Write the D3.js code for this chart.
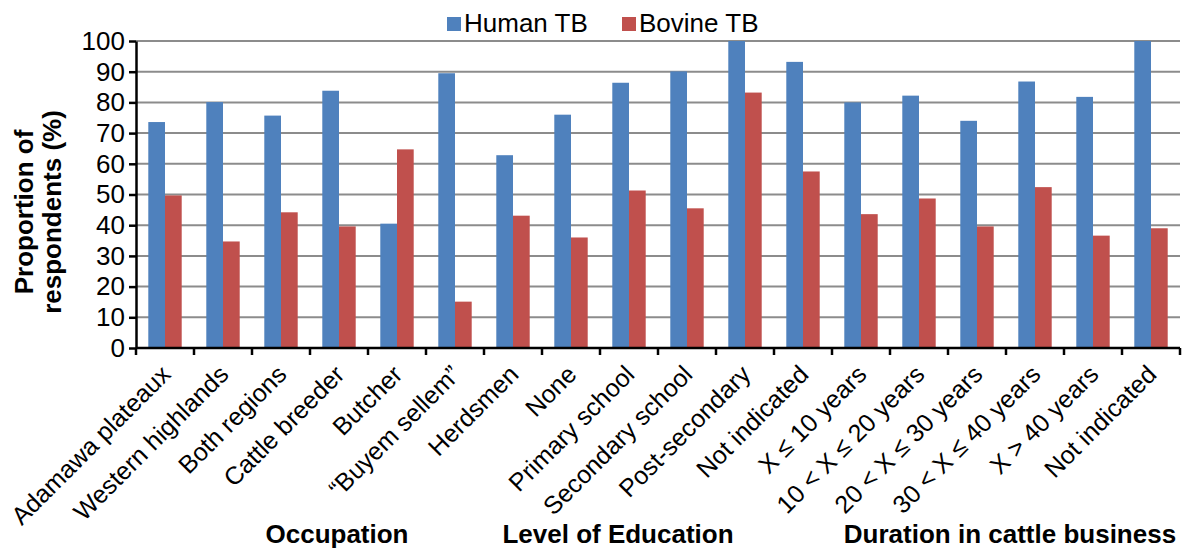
<!DOCTYPE html>
<html>
<head>
<meta charset="utf-8">
<script src="https://cdn.jsdelivr.net/npm/d3@7"></script>
<style>
	body { margin: 0; background: #fff; }
	svg { display: block; font-family: 'Liberation Sans', Arial, sans-serif; }
	.grid line { stroke: #8c8c8c; stroke-width: 2; }
	.axis path, .axis line { stroke: #000; stroke-width: 2.5; }
	.axis text { font-size: 26px; fill: #000; }
	.axis .x-label { font-size: 25px; }
	.title { font-size: 26px; font-weight: bold; }
	.legend-text { font-size: 26px; }
</style>
</head>
<body>
<svg id="chart-svg" width="1182" height="551"></svg>
<script>
const CATEGORIES = [
	'Adamawa plateaux', 'Western highlands', 'Both regions', 'Cattle breeder', 'Butcher',
	'\u201cBuyem sellem\u201d', 'Herdsmen', 'None', 'Primary school', 'Secondary school',
	'Post-secondary', 'Not indicated', 'X \u2264 10 years', '10 < X \u2264 20 years',
	'20 < X \u2264 30 years', '30 < X \u2264 40 years', 'X > 40 years', 'Not indicated'
];
const HUMAN_TB = [73.6, 80.1, 75.7, 83.8, 40.5, 89.5, 62.8, 76.0, 86.4, 90.1, 100, 93.2, 80.0, 82.2, 74.0, 86.8, 81.8, 100];
const BOVINE_TB = [49.7, 34.7, 44.2, 39.6, 64.7, 15.1, 43.1, 36.0, 51.3, 45.5, 83.2, 57.5, 43.6, 48.7, 39.6, 52.4, 36.6, 39.0];
const SERIES = ['Human TB', 'Bovine TB'];
const COLORS = ['#4f81bd', '#c0504d'];
const Y_TICKS = [0, 10, 20, 30, 40, 50, 60, 70, 80, 90, 100];
const GROUP_TITLES = ['Occupation', 'Level of Education', 'Duration in cattle business'];

const PADDING = { top: 41, bottom: 203, left: 136, right: 2 };

const svg = d3.select('#chart-svg');
const width = 1182;
const height = 551;

const rows = CATEGORIES.map((c, i) => ({ key: i, name: c, values: [HUMAN_TB[i], BOVINE_TB[i]] }));

const xScale = d3.scaleBand()
	.domain(rows.map((d) => d.key))
	.range([PADDING.left, width - PADDING.right])
	.paddingInner(0.424)
	.paddingOuter(0.212);
const x1 = d3.scaleBand().domain([0, 1]).range([0, xScale.bandwidth()]);
const yScale = d3.scaleLinear().domain([0, 100]).range([height - PADDING.bottom, PADDING.top]);
const step = xScale.step();
const x0 = PADDING.left;

// gridlines
svg.append('g')
	.attr('class', 'grid')
	.selectAll('line')
	.data(Y_TICKS.slice(1))
	.enter()
	.append('line')
	.attr('x1', PADDING.left)
	.attr('x2', width - PADDING.right)
	.attr('y1', (d) => yScale(d))
	.attr('y2', (d) => yScale(d));

// bars
const groups = svg.append('g')
	.selectAll('g')
	.data(rows)
	.enter()
	.append('g')
	.attr('transform', (d) => 'translate(' + xScale(d.key) + ',0)');
groups.selectAll('rect')
	.data((d) => d.values.map((v, j) => ({ v: v, j: j })))
	.enter()
	.append('rect')
	.attr('x', (d) => x1(d.j))
	.attr('width', x1.bandwidth())
	.attr('y', (d) => yScale(d.v))
	.attr('height', (d) => yScale(0) - yScale(d.v))
	.attr('fill', (d) => COLORS[d.j]);

// y axis
svg.append('g')
	.attr('class', 'axis')
	.attr('transform', 'translate(' + PADDING.left + ',0)')
	.call(d3.axisLeft(yScale).tickValues(Y_TICKS).tickSize(7).tickSizeOuter(0).tickPadding(4));

// x axis: ticks on category boundaries
const xAxisG = svg.append('g')
	.attr('class', 'axis')
	.attr('transform', 'translate(0,' + yScale(0) + ')');
xAxisG.append('line')
	.attr('x1', PADDING.left)
	.attr('x2', width - PADDING.right)
	.attr('y1', 0)
	.attr('y2', 0);
xAxisG.selectAll('.tick-mark')
	.data(d3.range(CATEGORIES.length + 1))
	.enter()
	.append('line')
	.attr('class', 'tick-mark')
	.attr('x1', (i) => x0 + i * step)
	.attr('x2', (i) => x0 + i * step)
	.attr('y1', 0)
	.attr('y2', 7);
xAxisG.selectAll('.x-label')
	.data(rows)
	.enter()
	.append('text')
	.attr('class', 'x-label')
	.attr('text-anchor', 'end')
	.attr('transform', (d) => 'translate(' + (xScale(d.key) + xScale.bandwidth() / 2 + 7) + ',28) rotate(-45)')
	.text((d) => d.name);

// y axis title
svg.append('text')
	.attr('class', 'title')
	.attr('text-anchor', 'middle')
	.attr('transform', 'translate(33,212) rotate(-90)')
	.text('Proportion of');
svg.append('text')
	.attr('class', 'title')
	.attr('text-anchor', 'middle')
	.attr('transform', 'translate(61,212) rotate(-90)')
	.text('respondents (%)');

// group titles
const titleX = [337, 618, 1010];
svg.selectAll('.group-title')
	.data(GROUP_TITLES)
	.enter()
	.append('text')
	.attr('class', 'title group-title')
	.attr('text-anchor', 'middle')
	.attr('x', (d, i) => titleX[i])
	.attr('y', 543)
	.text((d) => d);

// legend
const legendX = [447, 622];
const legendG = svg.append('g').attr('id', 'legend');
SERIES.forEach((s, i) => {
	legendG.append('rect')
		.attr('x', legendX[i])
		.attr('y', 17)
		.attr('width', 14)
		.attr('height', 14)
		.attr('fill', COLORS[i]);
	legendG.append('text')
		.attr('class', 'legend-text')
		.attr('x', legendX[i] + 17)
		.attr('y', 32)
		.text(s);
});
</script>
</body>
</html>
